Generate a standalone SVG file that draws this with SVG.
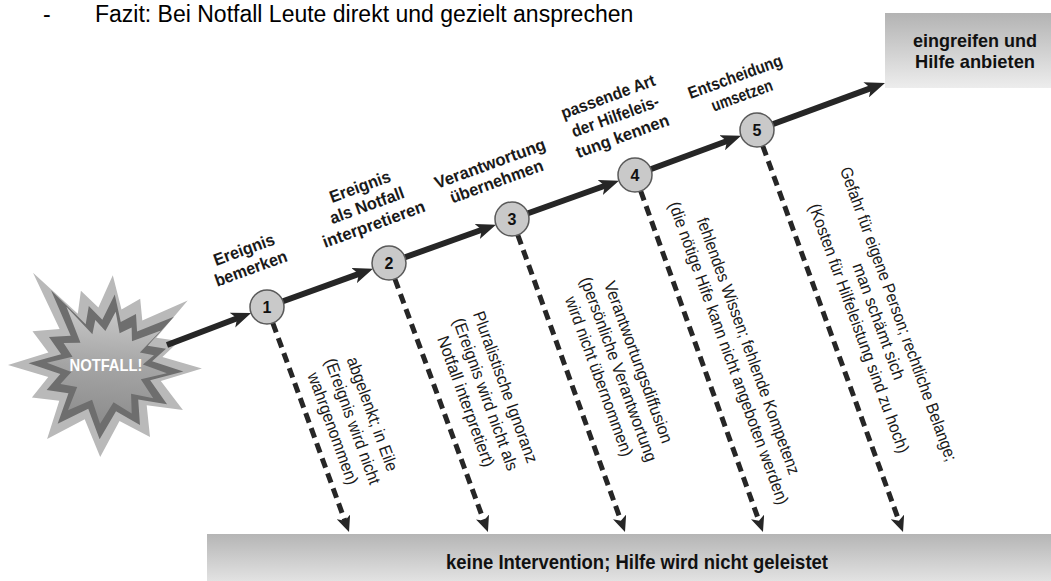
<svg xmlns="http://www.w3.org/2000/svg" width="1051" height="581" viewBox="0 0 1051 581">
<style>
.top{font-family:"Liberation Sans",Arial,sans-serif;font-size:23px;fill:#000}
.lbl{font-family:"Liberation Sans Narrow","Liberation Sans",sans-serif;font-weight:bold;font-size:17px;fill:#1a1a1a;text-anchor:middle}
.why{font-family:"Liberation Sans Narrow","Liberation Sans",sans-serif;font-size:17px;fill:#1a1a1a;text-anchor:middle}
.box{font-family:"Liberation Sans Narrow","Liberation Sans",sans-serif;font-weight:bold;fill:#111;text-anchor:middle}
.num{font-family:"Liberation Sans",sans-serif;font-weight:bold;font-size:16px;fill:#111;text-anchor:middle}
.step{fill:#c9c9c9;stroke:#5a5a5a;stroke-width:1.5}
.main{stroke:#262626;stroke-width:6;fill:none;marker-end:url(#ah)}
.dash{stroke:#262626;stroke-width:5;fill:none;stroke-dasharray:10 6;marker-end:url(#ahd)}
</style>
<defs>
<linearGradient id="gTop" x1="0" y1="0" x2="0" y2="1"><stop offset="0" stop-color="#b3b3b3"/><stop offset="1" stop-color="#ededed"/></linearGradient>
<linearGradient id="gBot" x1="0" y1="0" x2="0" y2="1"><stop offset="0" stop-color="#b5b5b5"/><stop offset="1" stop-color="#e2e2e2"/></linearGradient>
<linearGradient id="gIn" x1="0" y1="0" x2="0" y2="1"><stop offset="0" stop-color="#c8c8c8"/><stop offset="0.5" stop-color="#a4a4a4"/><stop offset="1" stop-color="#8c8c8c"/></linearGradient>
<marker id="ah" markerUnits="userSpaceOnUse" viewBox="0 0 20 16" markerWidth="20" markerHeight="16" refX="8" refY="8" orient="auto"><path d="M0,0 L20,8 L0,16 L5,8 z" fill="#262626"/></marker>
<marker id="ahd" markerUnits="userSpaceOnUse" viewBox="0 0 16 14" markerWidth="16" markerHeight="14" refX="6" refY="7" orient="auto"><path d="M0,0 L16,7 L0,14 L4,7 z" fill="#262626"/></marker>
<polygon id="star" points="96.9,3.4 55.8,16 77.9,45 41.7,40.3 45,72.1 14.5,56.1 -4.8,91.9 -20.3,54.3 -57.9,74.1 -45.7,35.7 -73.1,32.5 -56.7,12.1 -97,0 -56.6,-12.6 -72.5,-33.8 -45.4,-36.1 -72,-92.2 -27.2,-51.2 -24.1,-74.2 -6.6,-57.6 7.8,-89.7 16.5,-55.6 35.2,-66.2 37.3,-44.4 82.7,-64.6 51.2,-27.2 74.2,-24.1 57.4,-8.1"/>
</defs>
<rect width="1051" height="581" fill="#fff"/>
<g id="heading">
<text class="top" x="43" y="22">-</text>
<text class="top" x="95" y="22">Fazit: Bei Notfall Leute direkt und gezielt ansprechen</text>
</g>
<g id="notfall">
<use href="#star" transform="translate(105,365)" fill="#b9b9b9"/>
<use href="#star" transform="translate(106,366) rotate(2) scale(0.8)" fill="#6e6e6e"/>
<use href="#star" transform="translate(107,367) rotate(4) scale(0.62)" fill="url(#gIn)"/>
<text class="box" x="106" y="371" font-size="17" style="fill:#fff" textLength="73" lengthAdjust="spacingAndGlyphs">NOTFALL!</text>
</g>
<g id="connectors">
<line class="main" x1="167" y1="345" x2="239.9" y2="317.3"/>
<line class="main" x1="267" y1="307" x2="361.7" y2="272.9"/>
<line class="main" x1="389" y1="263" x2="484.7" y2="228.7"/>
<line class="main" x1="512" y1="219" x2="607.7" y2="184.7"/>
<line class="main" x1="635" y1="175" x2="729.8" y2="140"/>
<line class="main" x1="757" y1="130" x2="873.7" y2="87.1"/>
<line class="dash" x1="272.8" y1="323" x2="345.6" y2="522.6"/>
<line class="dash" x1="394.9" y1="279" x2="484.5" y2="522.6"/>
<line class="dash" x1="517.8" y1="235" x2="621.6" y2="522.6"/>
<line class="dash" x1="640.7" y1="191" x2="759.6" y2="522.6"/>
<line class="dash" x1="762.8" y1="146" x2="899.6" y2="522.6"/>
</g>
<g id="step1">
<circle class="step" cx="267" cy="307" r="17"/>
<text class="num" x="267" y="312.5">1</text>
<g transform="translate(246,255) rotate(-20)">
<text class="lbl" x="0" y="0" textLength="64" lengthAdjust="spacingAndGlyphs">Ereignis</text>
<text class="lbl" x="0" y="20" textLength="76" lengthAdjust="spacingAndGlyphs">bemerken</text>
</g>
<g transform="translate(367,416) rotate(70)">
<text class="why" x="0" y="0" textLength="120" lengthAdjust="spacingAndGlyphs">abgelenkt; in Eile</text>
<text class="why" x="0" y="21" textLength="133" lengthAdjust="spacingAndGlyphs">(Ereignis wird nicht</text>
<text class="why" x="0" y="42" textLength="118" lengthAdjust="spacingAndGlyphs">wahrgenommen)</text>
</g>
</g>
<g id="step2">
<circle class="step" cx="389" cy="263" r="17"/>
<text class="num" x="389" y="268.5">2</text>
<g transform="translate(362,192) rotate(-20)">
<text class="lbl" x="0" y="0" textLength="64" lengthAdjust="spacingAndGlyphs">Ereignis</text>
<text class="lbl" x="0" y="20" textLength="78" lengthAdjust="spacingAndGlyphs">als Notfall</text>
<text class="lbl" x="0" y="40" textLength="108" lengthAdjust="spacingAndGlyphs">interpretieren</text>
</g>
<g transform="translate(500,389) rotate(70)">
<text class="why" x="0" y="0" textLength="160" lengthAdjust="spacingAndGlyphs">Pluralistische Ignoranz</text>
<text class="why" x="0" y="21" textLength="161" lengthAdjust="spacingAndGlyphs">(Ereignis wird nicht als</text>
<text class="why" x="0" y="42" textLength="138" lengthAdjust="spacingAndGlyphs">Notfall interpretiert)</text>
</g>
</g>
<g id="step3">
<circle class="step" cx="512" cy="219" r="17"/>
<text class="num" x="512" y="224.5">3</text>
<g transform="translate(492,169) rotate(-20)">
<text class="lbl" x="0" y="0" textLength="117" lengthAdjust="spacingAndGlyphs">Verantwortung</text>
<text class="lbl" x="0" y="19" textLength="98" lengthAdjust="spacingAndGlyphs">übernehmen</text>
</g>
<g transform="translate(633,364) rotate(70)">
<text class="why" x="0" y="0" textLength="171" lengthAdjust="spacingAndGlyphs">Verantwortungsdiffusion</text>
<text class="why" x="0" y="21" textLength="195" lengthAdjust="spacingAndGlyphs">(persönliche Verantwortung</text>
<text class="why" x="0" y="42" textLength="169" lengthAdjust="spacingAndGlyphs">wird nicht übernommen)</text>
</g>
</g>
<g id="step4">
<circle class="step" cx="635" cy="175" r="17"/>
<text class="num" x="635" y="180.5">4</text>
<g transform="translate(610,102) rotate(-20)">
<text class="lbl" x="0" y="0" textLength="99" lengthAdjust="spacingAndGlyphs">passende Art</text>
<text class="lbl" x="0" y="21" textLength="92" lengthAdjust="spacingAndGlyphs">der Hilfeleis-</text>
<text class="lbl" x="0" y="42" textLength="98" lengthAdjust="spacingAndGlyphs">tung kennen</text>
</g>
<g transform="translate(743,348) rotate(70)">
<text class="why" x="0" y="0" textLength="272" lengthAdjust="spacingAndGlyphs">fehlendes Wissen; fehlende Kompetenz</text>
<text class="why" x="0" y="21" textLength="321" lengthAdjust="spacingAndGlyphs">(die nötige Hife kann nicht angeboten werden)</text>
</g>
</g>
<g id="step5">
<circle class="step" cx="757" cy="130" r="17"/>
<text class="num" x="757" y="135.5">5</text>
<g transform="translate(737,82) rotate(-20)">
<text class="lbl" x="0" y="0" textLength="99" lengthAdjust="spacingAndGlyphs">Entscheidung</text>
<text class="lbl" x="0" y="20" textLength="64" lengthAdjust="spacingAndGlyphs">umsetzen</text>
</g>
<g transform="translate(893,316) rotate(70)">
<text class="why" x="0" y="0" textLength="312" lengthAdjust="spacingAndGlyphs">Gefahr für eigene Person; rechtliche Belange;</text>
<text class="why" x="0" y="21" textLength="123" lengthAdjust="spacingAndGlyphs">man schämt sich</text>
<text class="why" x="0" y="42" textLength="264" lengthAdjust="spacingAndGlyphs">(Kosten für Hilfeleistung sind zu hoch)</text>
</g>
</g>
<g id="help">
<rect x="885" y="13" width="166" height="75" fill="url(#gTop)"/>
<text class="box" x="975" y="47" font-size="19" textLength="124" lengthAdjust="spacingAndGlyphs">eingreifen und</text>
<text class="box" x="975" y="68" font-size="19" textLength="120" lengthAdjust="spacingAndGlyphs">Hilfe anbieten</text>
</g>
<g id="nohelp">
<rect x="207" y="534" width="844" height="47" fill="url(#gBot)"/>
<text class="box" x="637" y="569" font-size="21" textLength="382" lengthAdjust="spacingAndGlyphs">keine Intervention; Hilfe wird nicht geleistet</text>
</g>
</svg>
